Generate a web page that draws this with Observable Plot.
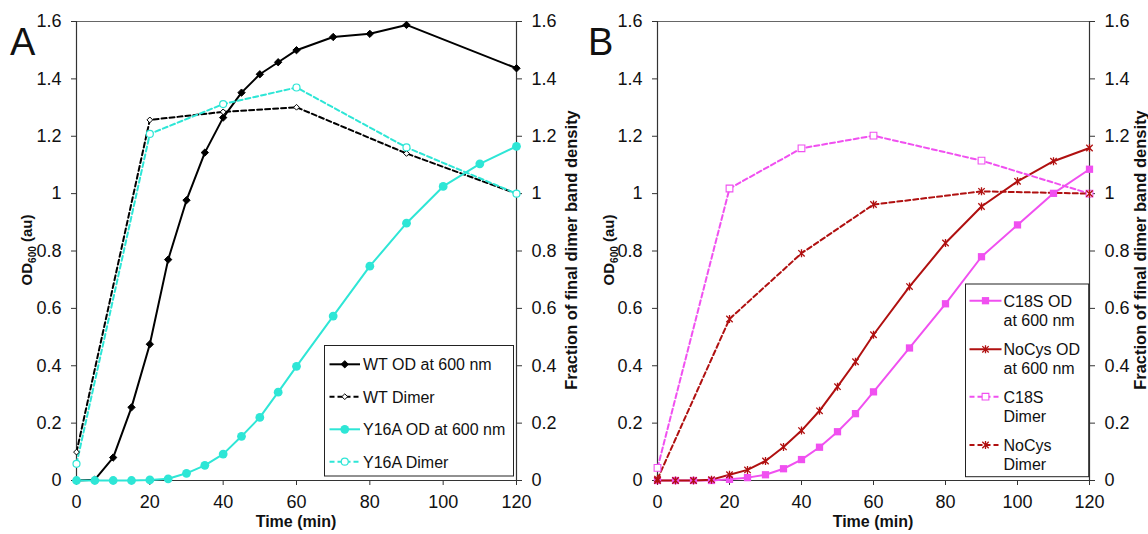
<!DOCTYPE html>
<html><head><meta charset="utf-8">
<script src="https://cdn.jsdelivr.net/npm/d3@7"></script>
<script src="https://cdn.jsdelivr.net/npm/@observablehq/plot@0.6"></script>
<style>
body{margin:0;background:#fff;}
#wrap{position:relative;width:1148px;height:534px;overflow:hidden;font-family:"Liberation Sans",Arial,sans-serif;}
#wrap svg{position:absolute;top:0;}
</style></head><body><div id="wrap"></div>
<script>
// ---------- data ----------
const odTime = [0,5,10,15,20,25,30,35,40,45,50,55,60,70,80,90,100,110,120];
const wtTime = [0,5,10,15,20,25,30,35,40,45,50,55,60,70,80,90,120];
const dimerTime = [0,20,40,60,90,120];

const wtOD = [0,0.003,0.08,0.255,0.475,0.77,0.977,1.143,1.265,1.352,1.416,1.458,1.5,1.546,1.557,1.588,1.437];
const wtDimer = [0.099,1.257,1.285,1.301,1.14,1.0];
const y16aOD = [0,0,0,0,0.002,0.006,0.025,0.053,0.092,0.154,0.22,0.308,0.398,0.573,0.747,0.897,1.025,1.104,1.165];
const y16aDimer = [0.058,1.208,1.312,1.37,1.161,1.0];

const c18sOD = [0,0,0,0,0.004,0.01,0.02,0.041,0.073,0.116,0.17,0.233,0.309,0.462,0.616,0.78,0.891,1.001,1.085];
const noCysOD = [0,0,0,0.003,0.02,0.037,0.068,0.117,0.174,0.243,0.327,0.414,0.508,0.676,0.828,0.955,1.043,1.113,1.159];
const c18sDimer = [0.044,1.018,1.158,1.202,1.115,1.0];
const noCysDimer = [0.005,0.563,0.792,0.962,1.008,1.0];

const xTicks = [0,20,40,60,80,100,120];
const yTicks = [0,0.2,0.4,0.6,0.8,1,1.2,1.4,1.6];

const legendA = [["WT OD at 600 nm"],["WT Dimer"],["Y16A OD at 600 nm"],["Y16A Dimer"]];
const legendB = [["C18S OD","at 600 nm"],["NoCys OD","at 600 nm"],["C18S","Dimer"],["NoCys","Dimer"]];
const panelLetters = ["A","B"];
const xLabel = "Time (min)";
const yLabelMain = "OD", yLabelSub = "600", yLabelTail = " (au)";
const y2Label = "Fraction of final dimer band density";

// ---------- styles ----------
const FONT = '"Liberation Sans", Arial, sans-serif';
const CYAN = "#2ee6d6", MAG = "#f050f0", DRED = "#b01010";
const asterisk = {
  draw(ctx, size) {
    const r = Math.sqrt(size / Math.PI);
    ctx.moveTo(-r, -r); ctx.lineTo(r, r);
    ctx.moveTo(-r, r); ctx.lineTo(r, -r);
    ctx.moveTo(0, -r * 1.25); ctx.lineTo(0, r * 1.25);
  }
};
const rows = (ts, vs) => ts.map((t, i) => ({t, v: vs[i]}));

const seriesA = [
  {data: rows(wtTime, wtOD), color: "black", dash: null, sym: d3.symbolDiamond2, psym: "diamond2", r: 3.3, fill: "black", sw: 1},
  {data: rows(dimerTime, wtDimer), color: "black", dash: "5,3", sym: d3.symbolDiamond2, psym: "diamond2", r: 2.6, fill: "white", sw: 1},
  {data: rows(odTime, y16aOD), color: CYAN, dash: null, sym: d3.symbolCircle, psym: "circle", r: 4.4, fill: CYAN, sw: 0},
  {data: rows(dimerTime, y16aDimer), color: CYAN, dash: "5,3", sym: d3.symbolCircle, psym: "circle", r: 3.5, fill: "white", sw: 1.2}
];
const seriesB = [
  {data: rows(odTime, c18sOD), color: MAG, dash: null, sym: d3.symbolSquare, psym: "square", r: 4.1, fill: MAG, sw: 0},
  {data: rows(odTime, noCysOD), color: DRED, dash: null, sym: asterisk, psym: asterisk, r: 3.2, fill: "none", sw: 1.3},
  {data: rows(dimerTime, c18sDimer), color: MAG, dash: "5,3", sym: d3.symbolSquare, psym: "square", r: 3.8, fill: "white", sw: 1.1},
  {data: rows(dimerTime, noCysDimer), color: DRED, dash: "5,3", sym: asterisk, psym: asterisk, r: 3.2, fill: "none", sw: 1.3}
];

const fmt = d => String(+(+d).toFixed(1));

function makePanel(series, mLeft, mRight) {
  const marks = [
    Plot.ruleY([1.6], {stroke: "#666", strokeWidth: 1}),
    Plot.axisX({ticks: xTicks, tickFormat: fmt, tickSize: 5, tickPadding: 10, label: null, fontSize: 18, stroke: "#333"}),
    Plot.axisY({anchor: "left", ticks: yTicks, tickFormat: fmt, tickSize: 5, tickPadding: 10, label: null, fontSize: 18, stroke: "#333"}),
    Plot.axisY({anchor: "right", ticks: yTicks, tickFormat: fmt, tickSize: 5, tickPadding: 10, label: null, fontSize: 18, stroke: "#333"}),
    Plot.ruleX([0], {stroke: "#333", strokeWidth: 1.2}),
    Plot.ruleX([120], {stroke: "#333", strokeWidth: 1.2}),
    Plot.ruleY([0], {stroke: "#333", strokeWidth: 1.2})
  ];
  for (const s of series) {
    marks.push(Plot.line(s.data, {x: "t", y: "v", stroke: s.color, strokeWidth: 2, strokeDasharray: s.dash || undefined}));
  }
  for (const s of series) {
    marks.push(Plot.dot(s.data, {x: "t", y: "v", symbol: s.psym, r: s.r, fill: s.fill,
      stroke: s.sw ? s.color : "none", strokeWidth: s.sw || 0}));
  }
  return Plot.plot({
    width: 574, height: 534,
    marginLeft: mLeft, marginRight: mRight, marginTop: 21, marginBottom: 54,
    x: {domain: [0, 120]},
    y: {domain: [0, 1.6]},
    style: {fontFamily: FONT, fontSize: "18px", color: "#111", background: "transparent", overflow: "visible"},
    marks
  });
}

const wrap = document.getElementById("wrap");
const pA = makePanel(seriesA, 76, 58);
pA.style.left = "0px";
const pB = makePanel(seriesB, 83, 59);
pB.style.left = "574px";
wrap.appendChild(pA);
wrap.appendChild(pB);

// ---------- overlay: letters, axis titles, legends ----------
const ov = d3.create("svg").attr("width", 1148).attr("height", 534)
  .style("position", "absolute").style("left", "0px").style("top", "0px")
  .attr("font-family", FONT).attr("fill", "#111");

const panelsGeo = [
  {letterX: 10, yLabX: 31.5, y2X: 576.5, xCenter: 296},
  {letterX: 588, yLabX: 614, y2X: 1146, xCenter: 873}
];
panelsGeo.forEach((g, i) => {
  ov.append("text").attr("x", g.letterX).attr("y", 55).attr("font-size", 38).text(panelLetters[i]);
  ov.append("text").attr("x", g.xCenter).attr("y", 527).attr("text-anchor", "middle")
    .attr("font-size", 16).attr("font-weight", "bold").text(xLabel);
  const yl = ov.append("text").attr("transform", `translate(${g.yLabX},250) rotate(-90)`)
    .attr("text-anchor", "middle").attr("font-size", 15).attr("font-weight", "bold");
  yl.append("tspan").text(yLabelMain);
  yl.append("tspan").attr("font-size", 10).attr("dy", 4).text(yLabelSub);
  yl.append("tspan").attr("dy", -4).text(yLabelTail);
  ov.append("text").attr("transform", `translate(${g.y2X},250) rotate(-90)`)
    .attr("text-anchor", "middle").attr("font-size", 16.5).attr("font-weight", "bold").text(y2Label);
});

function legend(series, labels, box, rowYs, lineGap, x0, x1, tx) {
  ov.append("rect").attr("x", box[0]).attr("y", box[1]).attr("width", box[2]).attr("height", box[3])
    .attr("fill", "white").attr("stroke", "#222").attr("stroke-width", 1);
  series.forEach((s, i) => {
    const cy = rowYs[i];
    ov.append("line").attr("x1", x0).attr("x2", x1).attr("y1", cy).attr("y2", cy)
      .attr("stroke", s.color).attr("stroke-width", 2).attr("stroke-dasharray", s.dash);
    ov.append("path").attr("transform", `translate(${(x0 + x1) / 2},${cy})`)
      .attr("d", d3.symbol(s.sym, Math.PI * s.r * s.r)())
      .attr("fill", s.fill).attr("stroke", s.sw ? s.color : "none").attr("stroke-width", s.sw || 0);
    labels[i].forEach((line, j) => {
      ov.append("text").attr("x", tx).attr("y", cy + 6 + j * lineGap).attr("font-size", 16).text(line);
    });
  });
}
legend(seriesA, legendA, [324.5, 345.5, 189, 130.5], [364.3, 396.7, 429.3, 461.7], 0, 329.5, 360, 363);
legend(seriesB, legendB, [965.5, 284, 123.2, 192.7], [300.7, 349.3, 396.7, 445], 19, 969.5, 1001.5, 1003.5);

wrap.appendChild(ov.node());
</script></body></html>
